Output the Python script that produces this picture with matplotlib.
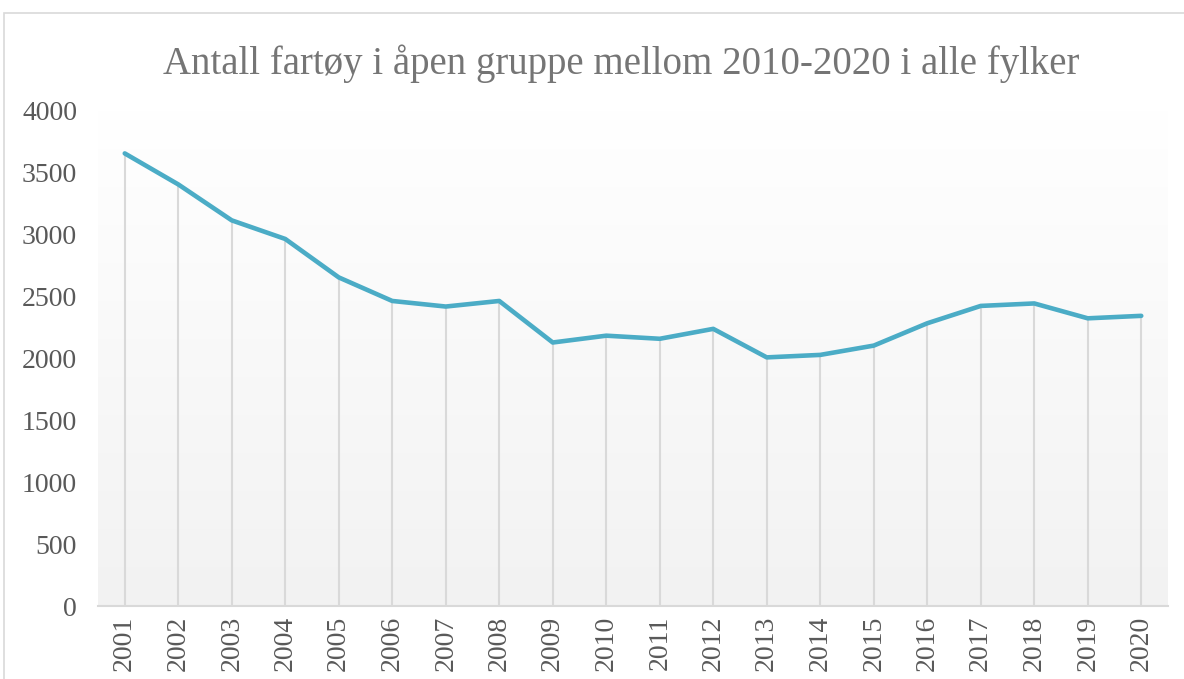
import numpy as np
import matplotlib.pyplot as plt
from matplotlib.patches import Rectangle
from matplotlib.colors import LinearSegmentedColormap

# data
years = [str(y) for y in range(2001, 2021)]
antall = [3650, 3400, 3110, 2960, 2650, 2460, 2415, 2460, 2125, 2180,
          2155, 2235, 2005, 2025, 2100, 2280, 2420, 2440, 2320, 2340]
yticks = [0, 500, 1000, 1500, 2000, 2500, 3000, 3500, 4000]

FONT = ['Liberation Serif', 'DejaVu Serif']
LINE_COLOR = '#4bacc6'
GRID_COLOR = '#d9d9d9'
TEXT_COLOR = '#595959'

W, H = 1184, 679
fig = plt.figure(figsize=(W / 100, H / 100), dpi=100)

# ramme rundt diagrammet
fig.patches.append(Rectangle((4 / W, -0.1), 1.2, (H - 13) / H + 0.1,
                             transform=fig.transFigure, fill=False,
                             edgecolor=GRID_COLOR, linewidth=1.2))

ax = fig.add_axes([98 / W, (H - 606) / H, (1168 - 98) / W, (606 - 110) / H])
x = np.arange(len(years))

# bakgrunn med gradient (hvit -> lys grå)
cmap = LinearSegmentedColormap.from_list('bg', ['#ffffff', '#f2f2f2'])
grad = np.linspace(0, 1, 256).reshape(-1, 1)
ax.imshow(grad, cmap=cmap, aspect='auto', origin='upper',
          extent=(-0.5, len(years) - 0.5, 0, 4000), zorder=0)

# loddrette linjer fra punkt til akse
ax.vlines(x, 0, antall, colors=GRID_COLOR, linewidth=1.5, zorder=1)
ax.plot(x, antall, color=LINE_COLOR, linewidth=3.3, solid_capstyle='round',
        solid_joinstyle='round', zorder=2)

ax.set_xlim(-0.5, len(years) - 0.5)
ax.set_ylim(0, 4000)
ax.set_yticks(yticks)
ax.set_yticklabels([str(v) for v in yticks], fontfamily=FONT, fontsize=20,
                   color=TEXT_COLOR)
ax.set_xticks(x)
ax.set_xticklabels(years, rotation=90, fontfamily=FONT, fontsize=20,
                   color=TEXT_COLOR)
ax.tick_params(axis='y', length=0, pad=15)
ax.tick_params(axis='x', length=0, pad=7)

for side in ['top', 'right', 'left']:
    ax.spines[side].set_visible(False)
ax.spines['bottom'].set_color(GRID_COLOR)
ax.spines['bottom'].set_linewidth(1.5)
ax.patch.set_visible(False)

fig.text(621 / W, (H - 64) / H,
         'Antall fartøy i åpen gruppe mellom 2010-2020 i alle fylker',
         ha='center', va='center', fontfamily=FONT, fontsize=28,
         color='#757575')

fig.savefig('out.png', dpi=100)
